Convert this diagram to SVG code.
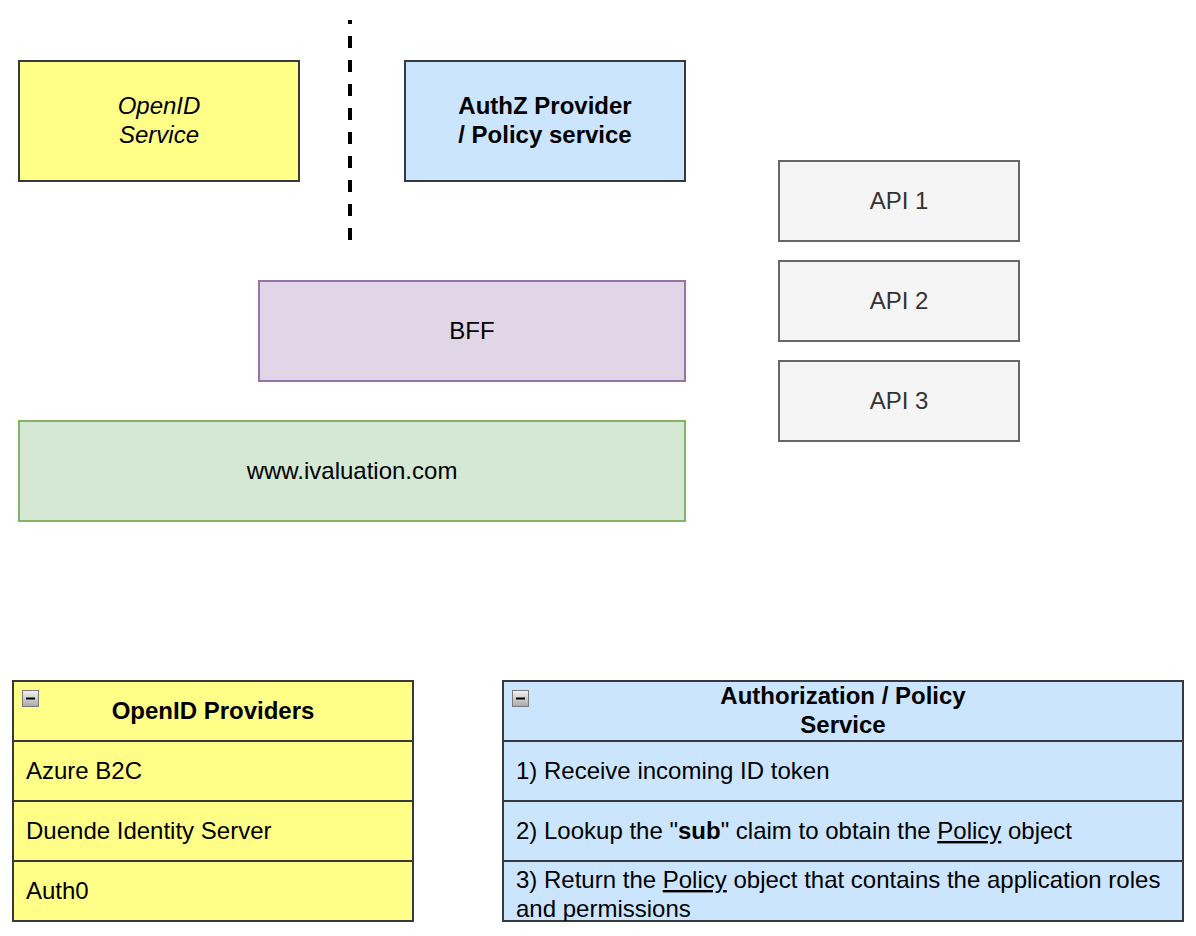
<svg xmlns="http://www.w3.org/2000/svg" width="1196" height="936" viewBox="0 0 1196 936">
<style>
text{font-family:"Liberation Sans",Arial,sans-serif;font-size:24px;fill:#000}
.c{text-anchor:middle}
.b{font-weight:bold}
.i{font-style:italic}
.u{text-decoration:underline}
.dk{stroke:#36393d;stroke-width:2}
.api{fill:#f5f5f5;stroke:#666666;stroke-width:2}
.apit{fill:#333333}
</style>
<defs>
<linearGradient id="gr" x1="0" y1="0" x2="0" y2="1"><stop offset="0" stop-color="#f4f4f4"/><stop offset="1" stop-color="#a8a8a8"/></linearGradient>
<clipPath id="clipA"><rect x="503" y="861" width="680" height="60"/></clipPath>
</defs>
<rect width="1196" height="936" fill="#ffffff"/>
<g id="connectors">
<line x1="350" y1="20" x2="350" y2="240" stroke="#000" stroke-width="4" stroke-dasharray="12 12" stroke-dashoffset="8"/>
</g>
<g id="openid-service">
<rect x="19" y="61" width="280" height="120" fill="#ffff88" class="dk"/>
<text class="c i" x="159" y="114">OpenID</text>
<text class="c i" x="159" y="143">Service</text>
</g>
<g id="authz-provider">
<rect x="405" y="61" width="280" height="120" fill="#cce5ff" class="dk"/>
<text class="c b" x="545" y="114">AuthZ Provider</text>
<text class="c b" x="545" y="143">/ Policy service</text>
</g>
<g id="api1">
<rect x="779" y="161" width="240" height="80" class="api"/>
<text class="c apit" x="899" y="209">API 1</text>
</g>
<g id="api2">
<rect x="779" y="261" width="240" height="80" class="api"/>
<text class="c apit" x="899" y="309">API 2</text>
</g>
<g id="api3">
<rect x="779" y="361" width="240" height="80" class="api"/>
<text class="c apit" x="899" y="409">API 3</text>
</g>
<g id="bff">
<rect x="259" y="281" width="426" height="100" fill="#e1d5e7" stroke="#9673a6" stroke-width="2"/>
<text class="c" x="472" y="339">BFF</text>
</g>
<g id="www">
<rect x="19" y="421" width="666" height="100" fill="#d5e8d4" stroke="#82b366" stroke-width="2"/>
<text class="c" x="352" y="479">www.ivaluation.com</text>
</g>
<g id="openid-providers">
<rect x="13" y="681" width="400" height="240" fill="#ffff88" class="dk"/>
<line x1="13" y1="741" x2="413" y2="741" class="dk"/>
<line x1="13" y1="801" x2="413" y2="801" class="dk"/>
<line x1="13" y1="861" x2="413" y2="861" class="dk"/>
<rect x="22.5" y="690.5" width="16" height="16" fill="url(#gr)" stroke="#7a7a7a" stroke-width="1"/>
<rect x="26" y="697.5" width="9" height="2" fill="#000"/>
<text class="c b" x="213" y="719">OpenID Providers</text>
<text x="26" y="779">Azure B2C</text>
<text x="26" y="839">Duende Identity Server</text>
<text x="26" y="899">Auth0</text>
</g>
<g id="authorization-policy">
<rect x="503" y="681" width="680" height="240" fill="#cce5ff" class="dk"/>
<line x1="503" y1="741" x2="1183" y2="741" class="dk"/>
<line x1="503" y1="801" x2="1183" y2="801" class="dk"/>
<line x1="503" y1="861" x2="1183" y2="861" class="dk"/>
<rect x="512.5" y="690.5" width="16" height="16" fill="url(#gr)" stroke="#7a7a7a" stroke-width="1"/>
<rect x="516" y="697.5" width="9" height="2" fill="#000"/>
<text class="c b" x="843" y="704">Authorization / Policy</text>
<text class="c b" x="843" y="733">Service</text>
<text x="516" y="779">1) Receive incoming ID token</text>
<text x="516" y="839">2) Lookup the "<tspan class="b">sub</tspan>" claim to obtain the <tspan class="u">Policy</tspan> object</text>
<g clip-path="url(#clipA)">
<text x="516" y="888">3) Return the <tspan class="u">Policy</tspan> object that contains the application roles</text>
<text x="516" y="917">and permissions</text>
</g>
</g>
</svg>
